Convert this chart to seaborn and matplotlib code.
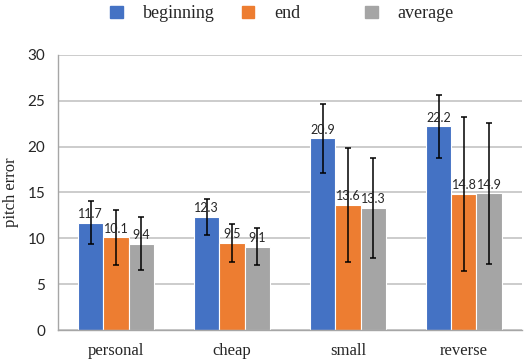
import pandas as pd
import matplotlib.pyplot as plt
import seaborn as sns
from matplotlib.patches import Patch

# data
categories = ["personal", "cheap", "small", "reverse"]
series = ["beginning", "end", "average"]
beginning = [11.7, 12.3, 20.9, 22.2]
end = [10.1, 9.5, 13.6, 14.8]
average = [9.4, 9.1, 13.3, 14.9]
err_beginning = [2.35, 1.95, 3.75, 3.45]
err_end = [3.0, 2.1, 6.2, 8.4]
err_average = [2.9, 2.0, 5.45, 7.7]

colours = {"beginning": "#4472C4", "end": "#ED7D31", "average": "#A5A5A5"}

df = pd.DataFrame({
    "category": categories * 3,
    "series": ["beginning"] * 4 + ["end"] * 4 + ["average"] * 4,
    "value": beginning + end + average,
})
errors = {"beginning": err_beginning, "end": err_end, "average": err_average}

sns.set_style("white")
serif = "Liberation Serif"
sans = "Lato"

fig = plt.figure(figsize=(5.29, 3.64), dpi=100)
ax = fig.add_axes([0.1096, 0.0934, 0.877, 0.756])

sns.barplot(data=df, x="category", y="value", hue="series", order=categories,
            hue_order=series, palette=colours, width=0.65, saturation=1,
            edgecolor="white", linewidth=0.8, errorbar=None, legend=False, ax=ax)

# error bars and value labels on top of each bar
for cont, name in zip(ax.containers, series):
    xs = [b.get_x() + b.get_width() / 2 for b in cont]
    hs = [b.get_height() for b in cont]
    ax.errorbar(xs, hs, yerr=errors[name], fmt="none", ecolor="black",
                elinewidth=1.1, capsize=2.5, capthick=1.1, zorder=5)
    ax.bar_label(cont, labels=["{:.1f}".format(h) for h in hs], padding=2,
                 fontsize=9, family=sans, zorder=6)

ax.set_ylim(0, 30)
ax.set_yticks(range(0, 31, 5))
ax.set_xlim(-0.5, 3.5)
ax.yaxis.grid(True, color="#BFBFBF", linewidth=1.1)
ax.set_axisbelow(True)
for s in ["top", "right"]:
    ax.spines[s].set_visible(False)
for s in ["left", "bottom"]:
    ax.spines[s].set_color("#A6A6A6")
    ax.spines[s].set_linewidth(1.0)

ax.tick_params(axis="y", length=3, color="#A6A6A6", labelsize=11, pad=6)
for t in ax.get_yticklabels():
    t.set_family(sans)
ax.tick_params(axis="x", which="major", length=0, pad=9)
ax.set_xticks([0.5, 1.5, 2.5], minor=True)
ax.tick_params(axis="x", which="minor", length=3, color="#A6A6A6")
ax.set_xticklabels(categories, fontsize=12, family=serif)
ax.set_xlabel("")
ax.set_ylabel("pitch error", fontsize=12, family=serif, labelpad=6)

# legend entries spaced evenly like the original
legend_x = [0.208, 0.457, 0.690]
for s, lx in zip(series, legend_x):
    leg = fig.legend([Patch(facecolor=colours[s], edgecolor=colours[s])], [s],
                     loc="center left", bbox_to_anchor=(lx, 0.962), frameon=False,
                     prop={"family": serif, "size": 13}, borderaxespad=0, borderpad=0,
                     handlelength=0.7, handleheight=0.7, handletextpad=1.1)

plt.savefig("out.png", dpi=100)
plt.close()
